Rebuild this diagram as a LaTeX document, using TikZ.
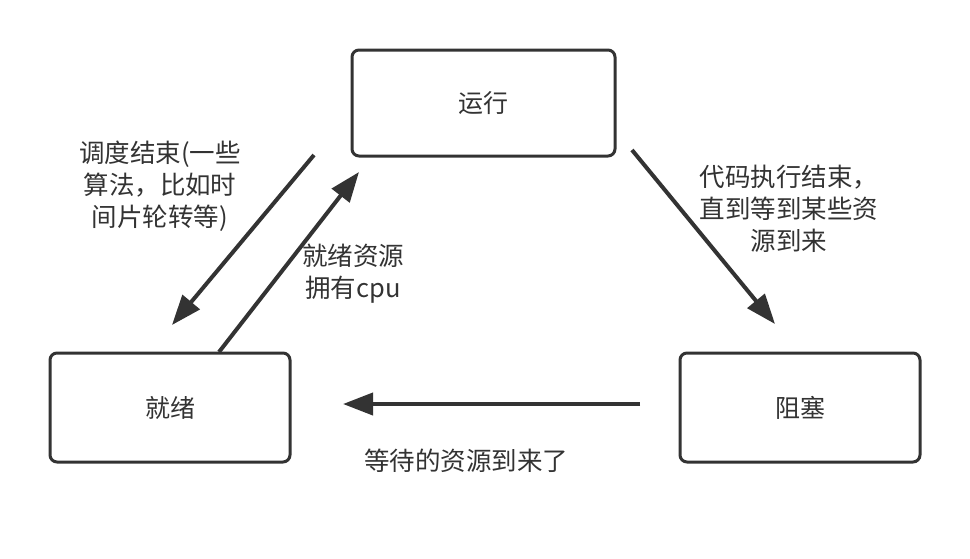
\documentclass[tikz,border=0pt]{standalone}
\usepackage{fontspec}
\setmainfont{Noto Sans CJK SC}
\usetikzlibrary{arrows.meta}
\definecolor{ink}{HTML}{333333}
\tikzset{
  statebox/.style={draw=ink, line width=3pt, rounded corners=7pt, fill=white, inner sep=0pt, font=\fontsize{25}{30}\selectfont, text=ink},
  conn/.style={draw=ink, line width=4pt, -{Triangle[length=30pt,width=22pt]}},
  lbl/.style={align=center, font=\fontsize{25.5}{32}\selectfont, text=ink, inner sep=0pt}
}
\begin{document}
\begin{tikzpicture}[x=1pt,y=-1pt]
\useasboundingbox[fill=white] (0,0) rectangle (970,558);
% boxes
\node[statebox, minimum width=263pt, minimum height=106pt] (run) at (483.5,103) {运行};
\node[statebox, minimum width=240pt, minimum height=109pt] (ready) at (170,407.5) {就绪};
\node[statebox, minimum width=240pt, minimum height=109pt] (block) at (800,407.5) {阻塞};
% connector endpoints
\coordinate (a1s) at (314,155);
\coordinate (a1e) at (172,325);
\coordinate (a2s) at (219,352);
\coordinate (a2e) at (359,172);
\coordinate (a3s) at (632,150);
\coordinate (a3e) at (775,324);
\coordinate (a4s) at (640,404);
\coordinate (a4e) at (343,404);
\draw[conn] (a1s) -- (a1e);
\draw[conn] (a2s) -- (a2e);
\draw[conn] (a3s) -- (a3e);
\draw[conn] (a4s) -- (a4e);
% labels
\node[lbl] (l1) at (160,186) {调度结束(一些\\算法，比如时\\间片轮转等)};
\node[lbl] (l2) at (353,274) {就绪资源\\拥有cpu};
\node[lbl] (l3) at (789,209) {代码执行结束，\\直到等到某些资\\源到来};
\node[lbl] (l4) at (466,461) {等待的资源到来了};
\end{tikzpicture}
\end{document}
